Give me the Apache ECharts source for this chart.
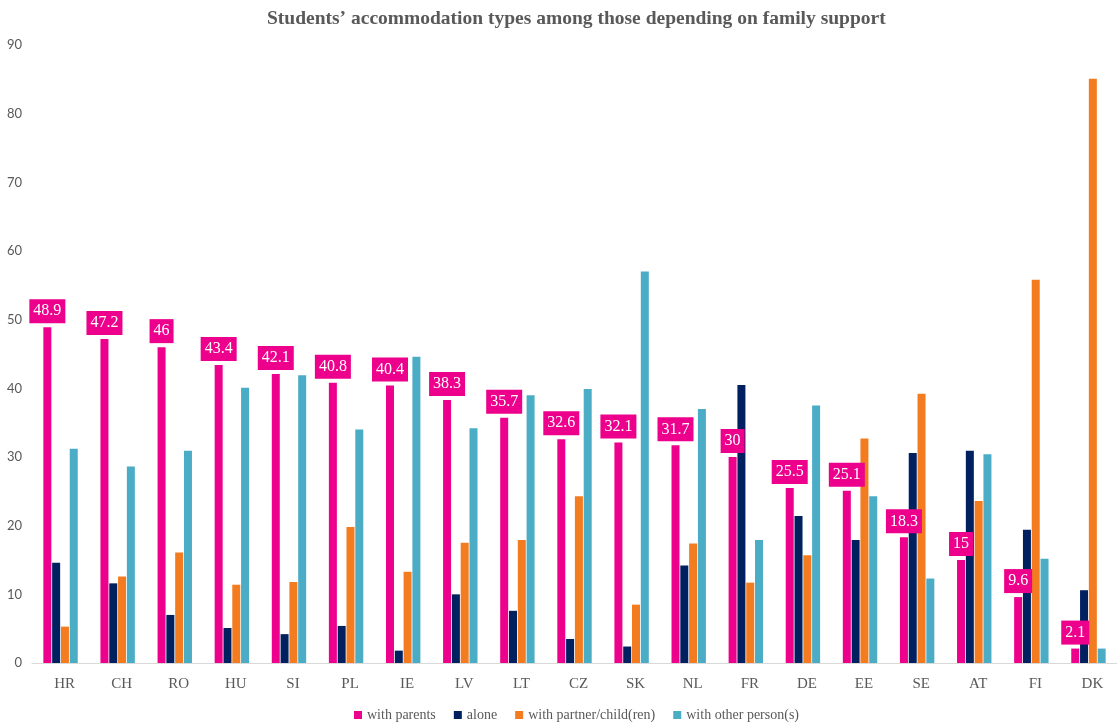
<!DOCTYPE html>
<html>
<head>
<meta charset="utf-8">
<script src="https://cdn.jsdelivr.net/npm/echarts@6/dist/echarts.min.js"></script>
<style>
html,body{margin:0;padding:0;background:#fff;}
#chart{width:1117px;height:726px;}
</style>
</head>
<body>
<div id="chart"></div>
<script>
const titleText = 'Students\u2019 accommodation types among those depending on family support';
const categories = ['HR','CH','RO','HU','SI','PL','IE','LV','LT','CZ','SK','NL','FR','DE','EE','SE','AT','FI','DK'];
const seriesNames = ['with parents','alone','with partner/child(ren)','with other person(s)'];
const withParents = [48.9,47.2,46,43.4,42.1,40.8,40.4,38.3,35.7,32.6,32.1,31.7,30,25.5,25.1,18.3,15,9.6,2.1];
const alone = [14.6,11.6,7.0,5.1,4.2,5.4,1.8,10.0,7.6,3.5,2.4,14.2,40.5,21.4,17.9,30.6,30.9,19.4,10.6];
const withPartner = [5.3,12.6,16.1,11.4,11.8,19.8,13.3,17.5,17.9,24.3,8.5,17.4,11.7,15.7,32.7,39.2,23.6,55.8,85.1];
const withOther = [31.2,28.6,30.9,40.1,41.9,34.0,44.6,34.2,39.0,39.9,57.0,37.0,17.9,37.5,24.3,12.3,30.4,15.2,2.1];
const colors = ['#ec008c','#002060','#f47c20','#4bacc6'];

const chart = echarts.init(document.getElementById('chart'), null, {renderer:'canvas'});
const dataSets = [withParents, alone, withPartner, withOther];
const series = dataSets.map((d, i) => ({
  name: seriesNames[i],
  type: 'bar',
  data: d,
  barWidth: 8,
  barGap: '10%',
  itemStyle: {color: colors[i]},
  label: i === 0 ? {
    show: true,
    position: 'top',
    distance: 4,
    color: '#ffffff',
    backgroundColor: '#ec008c',
    padding: [4, 4, 4, 4],
    fontFamily: 'Liberation Serif',
    fontSize: 16
  } : {show: false}
}));

chart.setOption({
  animation: false,
  backgroundColor: '#ffffff',
  title: {
    text: titleText,
    left: 262,
    top: 4,
    textStyle: {fontFamily: 'Liberation Serif', fontWeight: 'bold', fontSize: 19.5, color: '#595959'}
  },
  legend: {
    data: seriesNames,
    bottom: -1,
    left: 349,
    itemWidth: 8,
    itemHeight: 8,
    itemGap: 18,
    icon: 'rect',
    textStyle: {fontFamily: 'Liberation Serif', fontSize: 14, color: '#595959'}
  },
  grid: {left: 32, top: 45, width: 1091, bottom: 63, containLabel: false},
  xAxis: {
    type: 'category',
    data: categories,
    axisLine: {lineStyle: {color: '#d9d9d9', width: 1}},
    axisTick: {show: false},
    axisLabel: {fontFamily: 'Liberation Serif', fontSize: 15, color: '#595959', margin: 14, padding: [0,0,0,8]}
  },
  yAxis: {
    type: 'value',
    min: 0,
    max: 90,
    interval: 10,
    splitLine: {show: false},
    axisLine: {show: false},
    axisTick: {show: false},
    axisLabel: {fontFamily: 'Lato', fontSize: 13, color: '#595959', margin: 10}
  },
  series: series
});
</script>
</body>
</html>
